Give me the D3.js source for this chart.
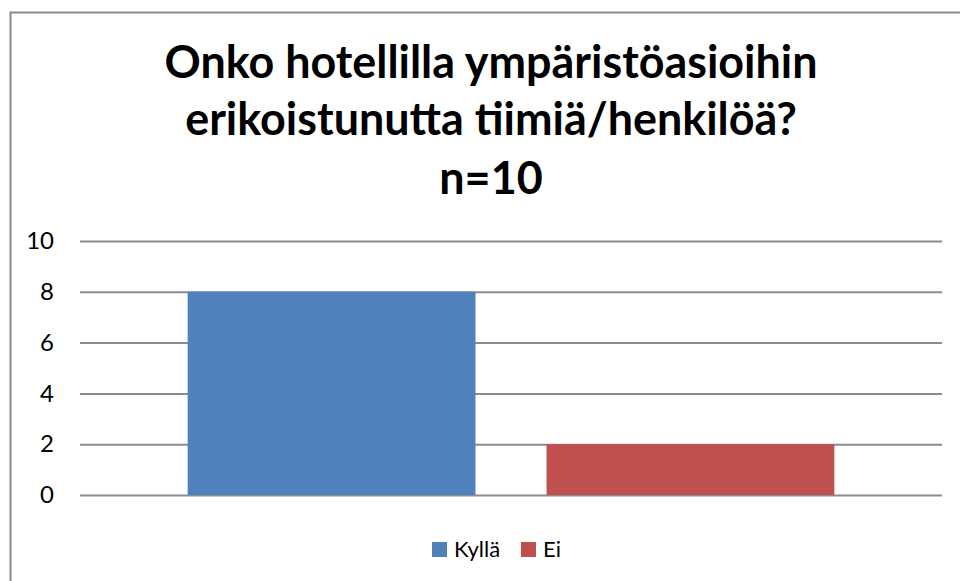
<!DOCTYPE html>
<html><head><meta charset="utf-8">
<script src="https://cdn.jsdelivr.net/npm/d3@7"></script>
<style>
html,body{margin:0;padding:0;background:#fff;}
svg{display:block;}
text{font-family:"Lato","Open Sans",sans-serif;}
</style></head>
<body>
<svg id="c" width="960" height="581"></svg>
<script>
const titleLines = ["Onko hotellilla ympäristöasioihin", "erikoistunutta tiimiä/henkilöä?", "n=10"];
const seriesNames = ["Kyllä", "Ei"];
const seriesValues = [8, 2];
const seriesColors = ["#4F81BD", "#C0504D"];
const yTicks = [0, 2, 4, 6, 8, 10];

const svg = d3.select("#c");
const plot = {left: 80, right: 942, top: 241, bottom: 495};

svg.append("rect").attr("x", 10.5).attr("y", 12.5).attr("width", 1200).attr("height", 1200)
  .attr("fill", "#fff").attr("stroke", "#888").attr("stroke-width", 2);

// title
const baselines = [78, 135, 194];
const t = svg.append("g").selectAll("text").data(titleLines).join("text")
  .attr("x", 491).attr("y", (d, i) => baselines[i])
  .attr("text-anchor", "middle").attr("font-weight", 700).style("font-size", "40px")
  .attr("fill", "#000").text(d => d);
const w0 = t.nodes()[0].getComputedTextLength();
t.style("font-size", (40 * 653 / w0) + "px");

const y = d3.scaleLinear().domain([0, 10]).range([plot.bottom, plot.top]);
const x = d3.scaleBand().domain(seriesNames).range([plot.left, plot.right]).paddingInner(0.198).paddingOuter(0.3);

const ax = svg.append("g").attr("transform", `translate(${plot.left},0)`)
  .call(d3.axisLeft(y).tickValues(yTicks).tickSize(-(plot.right - plot.left)).tickPadding(26).tickFormat(d3.format("d")));
ax.attr("font-size", null).attr("font-family", null);
ax.select(".domain").remove();
ax.selectAll(".tick line").attr("stroke", "#8c8c8c").attr("stroke-width", 2);
ax.selectAll(".tick text").style("font-size", "24px").attr("fill", "#000");

svg.append("g").selectAll("rect").data(seriesValues).join("rect")
  .attr("x", (d, i) => x(seriesNames[i])).attr("width", x.bandwidth())
  .attr("y", d => y(d)).attr("height", d => y(0) - y(d))
  .attr("fill", (d, i) => seriesColors[i]);

// legend
const lg = svg.append("g");
const legX = [432, 521];
seriesNames.forEach((n, i) => {
  lg.append("rect").attr("x", legX[i]).attr("y", 542).attr("width", 15).attr("height", 15).attr("fill", seriesColors[i]);
  lg.append("text").attr("x", legX[i] + 22).attr("y", 557).style("font-size", "22px").attr("fill", "#000").text(n);
});
</script>
</body></html>
